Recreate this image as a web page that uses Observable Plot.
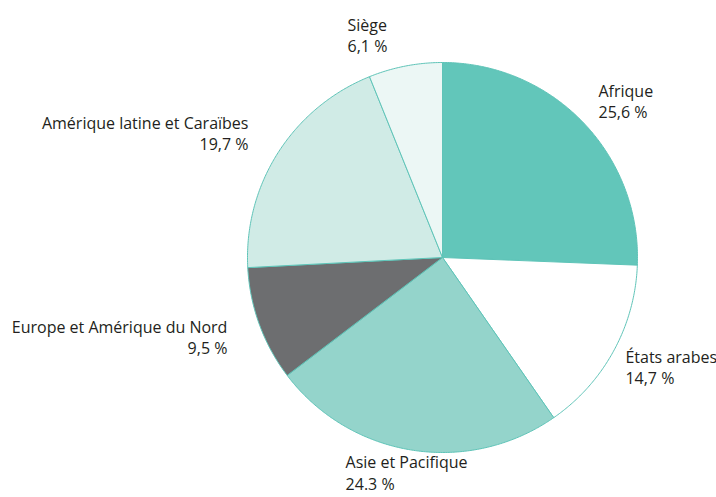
<!DOCTYPE html>
<html>
<head>
<meta charset="utf-8">
<script src="https://cdn.jsdelivr.net/npm/d3@7"></script>
<script src="https://cdn.jsdelivr.net/npm/@observablehq/plot@0.6"></script>
<style>
  html, body { margin: 0; padding: 0; background: #fff; }
</style>
</head>
<body>
<div id="chart"></div>
<script>
// Data
const regions = ["Afrique", "États arabes", "Asie et Pacifique", "Europe et Amérique du Nord", "Amérique latine et Caraïbes", "Siège"];
const shares = [25.6, 14.7, 24.3, 9.5, 19.7, 6.1];
const shareLabels = ["25,6 %", "14,7 %", "24.3 %", "9,5 %", "19,7 %", "6,1 %"];
const colors = ["#62c6ba", "#ffffff", "#94d4cb", "#6d6e70", "#d0ebe6", "#ecf7f5"];

// Label layout (unit-circle coordinates, pie radius = 1)
const labelX = [0.80, 0.938, -0.497, -1.103, -0.995, -0.487];
const labelY = [0.805, -0.559, -1.10, -0.405, 0.641, 1.144];
const labelAnchor = ["start", "start", "start", "end", "end", "start"];

const W = 716, H = 497;
const cx = 442, cy = 257, R = 195;

const arcs = d3.pie().sort(null).value(d => d)(shares);

function slicePoints(a) {
  const pts = [{x: 0, y: 0}];
  const n = Math.max(2, Math.ceil((a.endAngle - a.startAngle) / (Math.PI / 360)));
  for (let i = 0; i <= n; i++) {
    const t = a.startAngle + (a.endAngle - a.startAngle) * i / n;
    pts.push({x: Math.sin(t), y: Math.cos(t)});
  }
  pts.push({x: 0, y: 0});
  return pts;
}

const sliceMarks = arcs.map((a, i) =>
  Plot.line(slicePoints(a), {
    x: "x", y: "y",
    fill: colors[i],
    stroke: "#5fc4b8",
    strokeWidth: 1,
    strokeLinejoin: "round",
    curve: "linear"
  })
);

const labels = regions.map((r, i) => ({
  text: r + "\n" + shareLabels[i],
  x: labelX[i], y: labelY[i], anchor: labelAnchor[i]
}));

const chart = Plot.plot({
  width: W,
  height: H,
  margin: 0,
  x: {domain: [-cx / R, (W - cx) / R], axis: null},
  y: {domain: [(cy - H) / R, cy / R], axis: null},
  style: {fontFamily: "'Open Sans', sans-serif"},
  marks: [
    ...sliceMarks,
    Plot.text(labels.filter(d => d.anchor === "start"), {
      x: "x", y: "y", text: "text", textAnchor: "start", lineAnchor: "middle",
      fontSize: 16, lineHeight: 1.35, fill: "#231f20"
    }),
    Plot.text(labels.filter(d => d.anchor === "end"), {
      x: "x", y: "y", text: "text", textAnchor: "end", lineAnchor: "middle",
      fontSize: 16, lineHeight: 1.35, fill: "#231f20"
    })
  ]
});

document.getElementById("chart").appendChild(chart);
</script>
</body>
</html>
